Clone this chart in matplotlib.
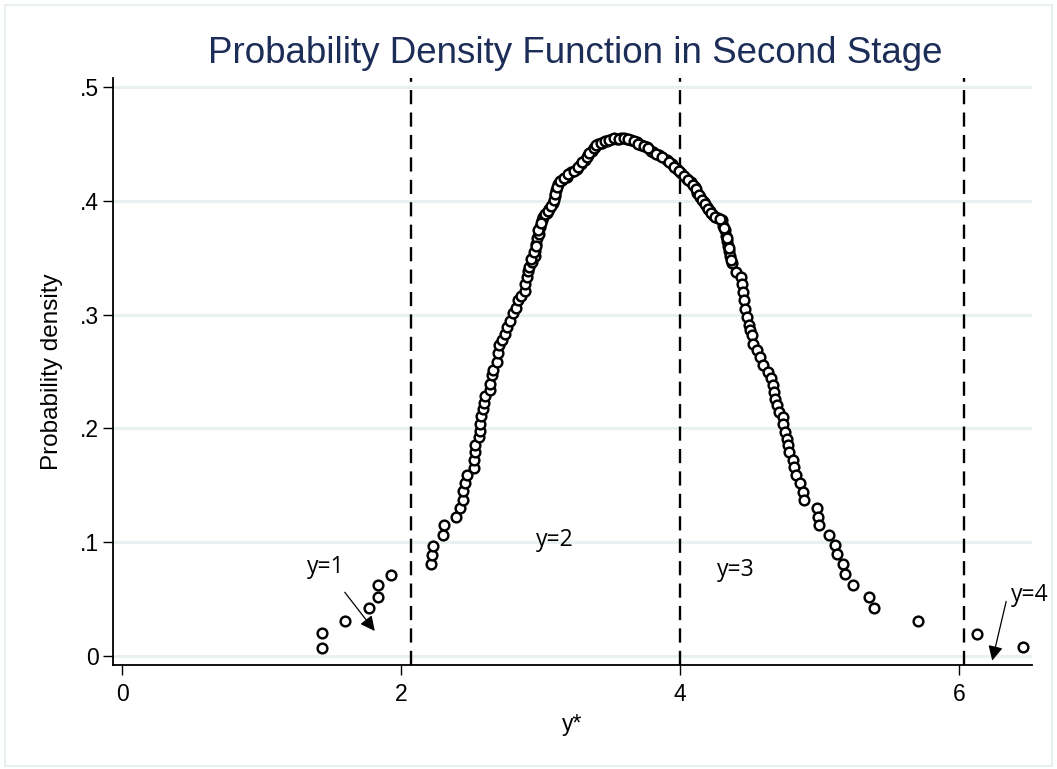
import matplotlib

matplotlib.use("Agg")
from matplotlib import pyplot as plt
from matplotlib.patches import Rectangle

# points (y* , density)
ystar = [
    1.43, 1.43, 1.60, 1.77, 1.83, 1.835, 1.93,
    2.21, 2.22, 2.225, 2.30, 2.305, 2.39, 2.42, 2.44, 2.445, 2.46, 2.47,
    2.52, 2.52, 2.53, 2.53, 2.56, 2.565, 2.565, 2.57, 2.59, 2.595, 2.60,
    2.635, 2.64, 2.65, 2.655, 2.69, 2.695, 2.70, 2.72, 2.745, 2.76, 2.78,
    2.80, 2.82, 2.84, 2.86, 2.885, 2.89, 2.90, 2.91, 2.92, 2.94, 2.96,
    2.962, 2.966, 2.975, 2.985, 2.995, 3.007, 3.02, 3.043, 3.06, 3.09,
    3.10, 3.11, 3.126, 3.15, 3.186, 3.22, 3.258, 3.29, 3.318, 3.34, 3.366,
    3.39, 3.413, 3.44, 3.473, 3.51, 3.545, 3.58, 3.617, 3.65, 3.689, 3.72,
    3.761, 3.79, 3.808, 3.85, 3.904, 3.94, 3.976, 4.01, 4.047, 4.08, 4.107,
    4.125, 4.143, 4.17, 4.191, 4.215, 4.238, 4.27, 4.298, 4.31, 4.322,
    4.33, 4.339, 4.345, 4.353, 4.36, 4.37, 4.40, 4.435, 4.442, 4.449,
    4.458, 4.466, 4.482, 4.497, 4.505, 4.514, 4.525, 4.55, 4.573, 4.593,
    4.633, 4.65, 4.664, 4.674, 4.681, 4.693, 4.712, 4.736, 4.740, 4.753,
    4.769, 4.776, 4.783, 4.808, 4.817, 4.831, 4.86, 4.879, 4.89,
    4.984, 4.99, 4.997, 5.066, 5.114, 5.128, 5.171, 5.185, 5.243, 5.357,
    5.391, 5.709, 6.128, 6.462,
    # thick band around the peak
    2.93, 2.95, 2.97, 2.98, 3.00, 3.03, 3.05, 3.075, 3.095, 3.105, 3.12,
    3.14, 3.17, 3.20, 3.24, 3.27, 3.30, 3.33, 3.35, 3.38, 3.40, 3.43,
    3.46, 3.49, 3.53, 3.56, 3.60, 3.63, 3.67, 3.70, 3.74, 3.77, 3.83,
    3.87, 3.92, 3.96, 3.99, 4.03, 4.06, 4.09, 4.115, 4.135, 4.155, 4.18,
    4.20, 4.225, 4.25, 4.285, 4.315, 4.335, 4.35, 4.365,
]
density = [
    0.007, 0.020, 0.031, 0.042, 0.052, 0.062, 0.071,
    0.081, 0.089, 0.097, 0.106, 0.115, 0.122, 0.130, 0.137, 0.145, 0.152, 0.159,
    0.165, 0.172, 0.179, 0.185, 0.192, 0.198, 0.204, 0.211, 0.217, 0.222, 0.228,
    0.234, 0.239, 0.247, 0.251, 0.258, 0.266, 0.273, 0.278, 0.283, 0.289, 0.294,
    0.301, 0.306, 0.3125, 0.316, 0.321, 0.327, 0.333, 0.338, 0.342, 0.346, 0.351,
    0.356, 0.362, 0.367, 0.371, 0.377, 0.383, 0.386, 0.389, 0.393, 0.398,
    0.404, 0.409, 0.415, 0.418, 0.421, 0.425, 0.428, 0.432, 0.4355, 0.440, 0.444,
    0.447, 0.450, 0.451, 0.4525, 0.454, 0.4545, 0.455, 0.4545, 0.453, 0.4515, 0.449,
    0.447, 0.444, 0.4428, 0.440, 0.4355, 0.432, 0.428, 0.424, 0.4194, 0.416, 0.412,
    0.407, 0.403, 0.399, 0.3945, 0.391, 0.387, 0.385, 0.383, 0.378, 0.374,
    0.369, 0.365, 0.360, 0.356, 0.351, 0.345, 0.337, 0.333, 0.327, 0.320,
    0.3125, 0.305, 0.298, 0.291, 0.286, 0.282, 0.2745, 0.2687, 0.263, 0.2555,
    0.2496, 0.2438, 0.238, 0.232, 0.226, 0.2204, 0.2145, 0.210, 0.204, 0.197,
    0.191, 0.185, 0.179, 0.172, 0.166, 0.159, 0.152, 0.144, 0.137,
    0.130, 0.122, 0.115, 0.106, 0.0975, 0.0896, 0.081, 0.072, 0.062, 0.0515,
    0.042, 0.031, 0.0196, 0.0076,
    # thick band around the peak
    0.349, 0.355, 0.360, 0.374, 0.380, 0.388, 0.391, 0.395, 0.401, 0.406, 0.412,
    0.417, 0.420, 0.423, 0.426, 0.430, 0.434, 0.438, 0.442, 0.446, 0.449, 0.451,
    0.452, 0.453, 0.455, 0.454, 0.455, 0.454, 0.452, 0.450, 0.448, 0.446, 0.441,
    0.438, 0.434, 0.430, 0.426, 0.422, 0.418, 0.414, 0.410, 0.405, 0.401, 0.397,
    0.393, 0.389, 0.386, 0.384, 0.376, 0.367, 0.358, 0.348,
]

cutoffs = [2.07, 4.0, 6.04]
xticks = [0, 2, 4, 6]
yticks = [0, 0.1, 0.2, 0.3, 0.4, 0.5]
ytick_labels = ["0", ".1", ".2", ".3", ".4", ".5"]

title = "Probability Density Function in Second Stage"

plt.rcParams["font.family"] = ["Liberation Sans", "DejaVu Sans"]

fig = plt.figure(figsize=(10.57, 7.69), dpi=100)
fig.patches.append(
    Rectangle((0.005, 0.004), 0.99, 0.99, transform=fig.transFigure,
              fill=False, edgecolor="#e3ecef", linewidth=1.2)
)
ax = fig.add_axes([0.1069, 0.1352, 0.8694, 0.7633])

ax.set_xlim(-0.068, 6.525)
ax.set_ylim(-0.0079, 0.5077)

for y in yticks:
    ax.axhline(y, color="#e8f0f2", linewidth=2.2, zorder=0)

for c in cutoffs:
    ax.axvline(c, color="black", linewidth=1.7, dashes=(6, 3.5), zorder=1)

ax.plot(ystar, density, linestyle="none", marker="o", markersize=7,
        markerfacecolor="white", markeredgecolor="black",
        markeredgewidth=1.75, zorder=3)

ax.spines["top"].set_visible(False)
ax.spines["right"].set_visible(False)
for s in ["left", "bottom"]:
    ax.spines[s].set_linewidth(1.3)

ax.set_xticks(xticks)
ax.set_yticks(yticks)
ax.set_yticklabels(ytick_labels)
ax.tick_params(axis="both", direction="out", length=7, width=1,
               labelsize=16.5, colors="black")
ax.tick_params(axis="x", pad=6)
ax.tick_params(axis="y", pad=3)

ax.set_xlabel("y*", fontsize=16.5, labelpad=5)
ax.set_ylabel("Probability density", fontsize=17.5, labelpad=12)

fig.text(0.544, 0.930, title, ha="center", va="center", fontsize=26.5,
         color="#1c2d58")

lab_font = dict(fontsize=16.5, family=["Open Sans", "DejaVu Sans"],
                color="black")
ax.text(1.46, 0.078, "y=1", ha="center", va="center", **lab_font)
ax.text(3.10, 0.102, "y=2", ha="center", va="center", **lab_font)
ax.text(4.40, 0.076, "y=3", ha="center", va="center", **lab_font)
ax.text(6.51, 0.054, "y=4", ha="center", va="center", **lab_font)

arrow = dict(arrowstyle="-|>", color="black", lw=0.9, mutation_scale=22,
             shrinkA=0, shrinkB=0)
ax.annotate("", xy=(1.81, 0.022), xytext=(1.595, 0.056), arrowprops=arrow)
ax.annotate("", xy=(6.24, -0.004), xytext=(6.34, 0.048), arrowprops=arrow)

fig.savefig("out.png", dpi=100)
